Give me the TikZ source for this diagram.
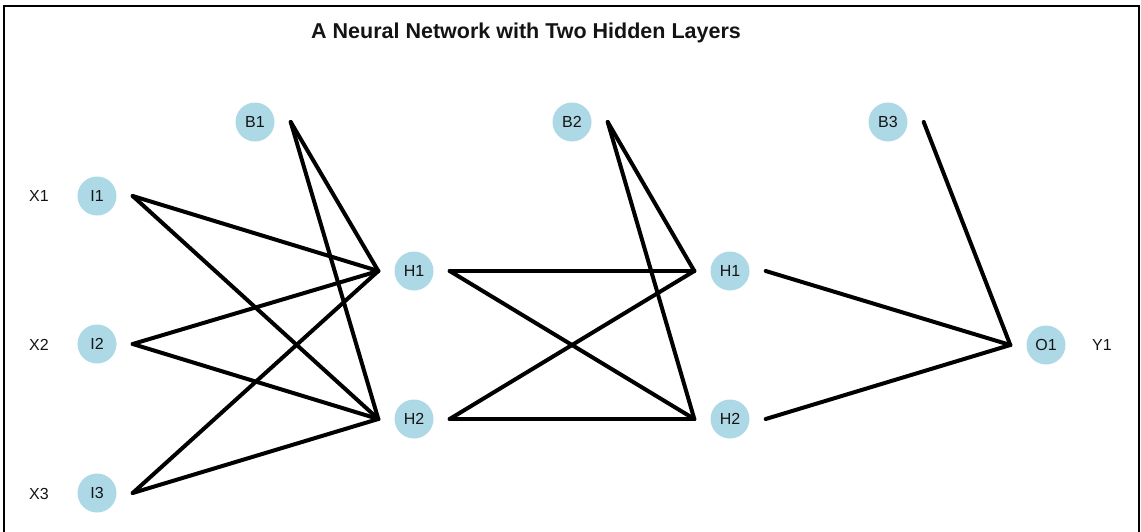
\documentclass[tikz,border=0pt]{standalone}
\usepackage{fontspec}
\setmainfont{Liberation Sans}
\definecolor{neuron}{RGB}{173,216,230}
\definecolor{ink}{RGB}{20,20,20}
\begin{document}
\begin{tikzpicture}[x=1pt,y=-1pt,
  neuron/.style={circle,fill=neuron,inner sep=0pt,minimum size=39pt,
    text=ink,font=\fontsize{16}{18}\selectfont},
  varlabel/.style={text=ink,font=\fontsize{16}{18}\selectfont},
  weight/.style={line width=4pt,line cap=round,line join=round},
  from/.style={xshift=16pt},
  to/.style={xshift=-16pt}]
  \useasboundingbox (0,0) rectangle (1141,531);
  \begin{scope}
    \clip (0,0) rectangle (1141,531);
    \draw[line width=2pt] (4,6) rectangle (1139,560);
  \end{scope}

  % title
  \node[font=\bfseries\fontsize{21.5}{24}\selectfont,text=ink] (title) at (526,33)
    {A Neural Network with Two Hidden Layers};

  % input layer
  \node[neuron] (I1) at (97,196) {I1};
  \node[neuron] (I2) at (97,344) {I2};
  \node[neuron] (I3) at (97,493) {I3};
  \node[varlabel] (X1) at (39,196) {X1};
  \node[varlabel] (X2) at (39,345) {X2};
  \node[varlabel] (X3) at (39,494) {X3};

  % first hidden layer
  \node[neuron] (B1) at (255,122) {B1};
  \node[neuron] (HA1) at (414,271) {H1};
  \node[neuron] (HA2) at (414,419) {H2};

  % second hidden layer
  \node[neuron] (B2) at (572,122) {B2};
  \node[neuron] (HB1) at (730,271) {H1};
  \node[neuron] (HB2) at (730,419) {H2};

  % output layer
  \node[neuron] (B3) at (888,122) {B3};
  \node[neuron] (O1) at (1046,345) {O1};
  \node[varlabel] (Y1) at (1102,345) {Y1};

  % weights into the first hidden layer
  \foreach \s in {I1,I2,I3,B1}{
    \foreach \t in {HA1,HA2}{
      \draw[weight] ([from]\s.east) -- ([to]\t.west);
    }
  }
  % weights into the second hidden layer
  \foreach \s in {HA1,HA2,B2}{
    \foreach \t in {HB1,HB2}{
      \draw[weight] ([from]\s.east) -- ([to]\t.west);
    }
  }
  % weights into the output
  \foreach \s in {HB1,HB2,B3}{
    \draw[weight] ([from]\s.east) -- ([to]O1.west);
  }
\end{tikzpicture}
\end{document}
